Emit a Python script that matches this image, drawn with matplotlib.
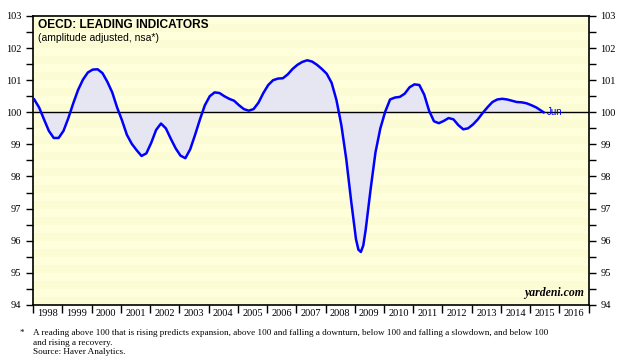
import matplotlib
matplotlib.use('Agg')
import matplotlib.pyplot as plt
import numpy as np

# OECD leading indicator
dates = ['1998-01', '1998-03', '1998-05', '1998-07', '1998-09', '1998-11',
         '1999-01', '1999-03', '1999-05', '1999-07', '1999-09', '1999-11',
         '2000-01', '2000-03', '2000-05', '2000-07', '2000-09', '2000-11',
         '2001-01', '2001-03', '2001-05', '2001-07', '2001-09', '2001-11',
         '2002-01', '2002-03', '2002-05', '2002-07', '2002-09', '2002-11',
         '2003-01', '2003-03', '2003-05', '2003-07', '2003-09', '2003-11',
         '2004-01', '2004-03', '2004-05', '2004-07', '2004-09', '2004-11',
         '2005-01', '2005-03', '2005-05', '2005-07', '2005-09', '2005-11',
         '2006-01', '2006-03', '2006-05', '2006-07', '2006-09', '2006-11',
         '2007-01', '2007-03', '2007-05', '2007-07', '2007-09', '2007-11',
         '2008-01', '2008-03', '2008-05', '2008-07', '2008-09', '2008-11',
         '2009-01', '2009-02', '2009-03', '2009-04', '2009-05', '2009-07', '2009-09', '2009-11',
         '2010-01', '2010-03', '2010-05', '2010-07', '2010-09', '2010-11',
         '2011-01', '2011-03', '2011-05', '2011-07', '2011-09', '2011-11',
         '2012-01', '2012-03', '2012-05', '2012-07', '2012-09', '2012-11',
         '2013-01', '2013-03', '2013-05', '2013-07', '2013-09', '2013-11',
         '2014-01', '2014-03', '2014-05', '2014-07', '2014-09', '2014-11',
         '2015-01', '2015-03', '2015-05', '2015-06']
values = [100.40, 100.15, 99.78, 99.42, 99.20, 99.20,
          99.42, 99.82, 100.28, 100.70, 101.02, 101.24,
          101.33, 101.34, 101.22, 100.95, 100.62, 100.15,
          99.75, 99.30, 99.02, 98.82, 98.64, 98.72,
          99.05, 99.45, 99.65, 99.50, 99.18, 98.88,
          98.65, 98.57, 98.85, 99.30, 99.78, 100.22,
          100.50, 100.62, 100.60, 100.50, 100.42, 100.36,
          100.22, 100.10, 100.05, 100.10, 100.30, 100.60,
          100.85, 101.00, 101.05, 101.06, 101.18, 101.35,
          101.48, 101.57, 101.62, 101.58, 101.48, 101.35,
          101.20, 100.92, 100.38, 99.60, 98.55, 97.25,
          96.05, 95.72, 95.65, 95.85, 96.35, 97.60, 98.75, 99.50,
          100.02, 100.40, 100.46, 100.48, 100.58, 100.78,
          100.87, 100.85, 100.55, 100.05, 99.72, 99.66,
          99.73, 99.82, 99.78, 99.60, 99.47, 99.50,
          99.62, 99.78, 99.98, 100.16, 100.32, 100.40,
          100.42, 100.40, 100.36, 100.32, 100.31, 100.28,
          100.22, 100.15, 100.05, 100.00]

year_labels = [str(y) for y in range(1998, 2017)]

t = np.array([int(d[:4]) + (int(d[5:]) - 0.5) / 12.0 for d in dates])
v = np.array(values)

fig = plt.figure(figsize=(6.23, 3.63), dpi=100)
ax = fig.add_axes([0.053, 0.160, 0.892, 0.796])
ax.set_xlim(1998, 2017)
ax.set_ylim(94, 103)

# yellow background with faint horizontal stripes
ax.set_facecolor('#ffffdc')
for k, y0 in enumerate(np.arange(94, 103, 0.25)):
    if k % 2 == 0:
        ax.axhspan(y0, y0 + 0.25, color='#fcfcd4', lw=0, zorder=0)

ax.fill_between(t, v, 100, color='#e6e6f2', lw=0, zorder=1)
ax.axhline(100, color='black', lw=1, zorder=2)
ax.plot(t, v, color='#0000ff', lw=1.8, zorder=3, solid_joinstyle='round')
ax.text(t[-1] + 0.12, v[-1], 'Jun', color='#0000ff', fontsize=7,
        va='center', ha='left', family='Liberation Sans')

# y axes, both sides
ax.set_yticks(range(94, 104))
ax.set_yticks(np.arange(94.5, 103, 1), minor=True)
ax.tick_params(axis='y', which='both', direction='out', left=True, right=True,
               labelleft=True, labelright=True, labelsize=7.5, length=5, width=1)
for lab in ax.get_yticklabels():
    lab.set_family('Liberation Serif')

# x axis: ticks at year boundaries, labels in between
ax.set_xticks(range(1998, 2018))
ax.set_xticklabels([])
ax.set_xticks(np.arange(1998.5, 2017, 1), minor=True)
ax.set_xticklabels(year_labels, minor=True, family='Liberation Serif', fontsize=7.5)
ax.tick_params(axis='x', which='major', direction='out', length=6, width=1)
ax.tick_params(axis='x', which='minor', length=0, pad=3)

for s in ax.spines.values():
    s.set_linewidth(1.2)

ax.text(0.009, 0.988, 'OECD: LEADING INDICATORS', transform=ax.transAxes,
        fontsize=8.6, fontweight='bold', va='top', family='Liberation Sans')
ax.text(0.009, 0.94, '(amplitude adjusted, nsa*)', transform=ax.transAxes,
        fontsize=7.5, va='top', family='Liberation Sans')
ax.text(0.992, 0.02, 'yardeni.com', transform=ax.transAxes, fontsize=8.5,
        fontweight='bold', style='italic', ha='right', va='bottom',
        family='Liberation Serif')

fig.text(0.032, 0.083, '*', fontsize=6.6, family='Liberation Serif', va='center')
fig.text(0.053, 0.083, 'A reading above 100 that is rising predicts expansion, above 100 and falling a '
         'downturn, below 100 and falling a slowdown, and below 100',
         fontsize=6.6, family='Liberation Serif', va='center')
fig.text(0.053, 0.056, 'and rising a recovery.', fontsize=6.6, family='Liberation Serif', va='center')
fig.text(0.053, 0.029, 'Source: Haver Analytics.', fontsize=6.6, family='Liberation Serif', va='center')

fig.savefig('out.png', dpi=100)
